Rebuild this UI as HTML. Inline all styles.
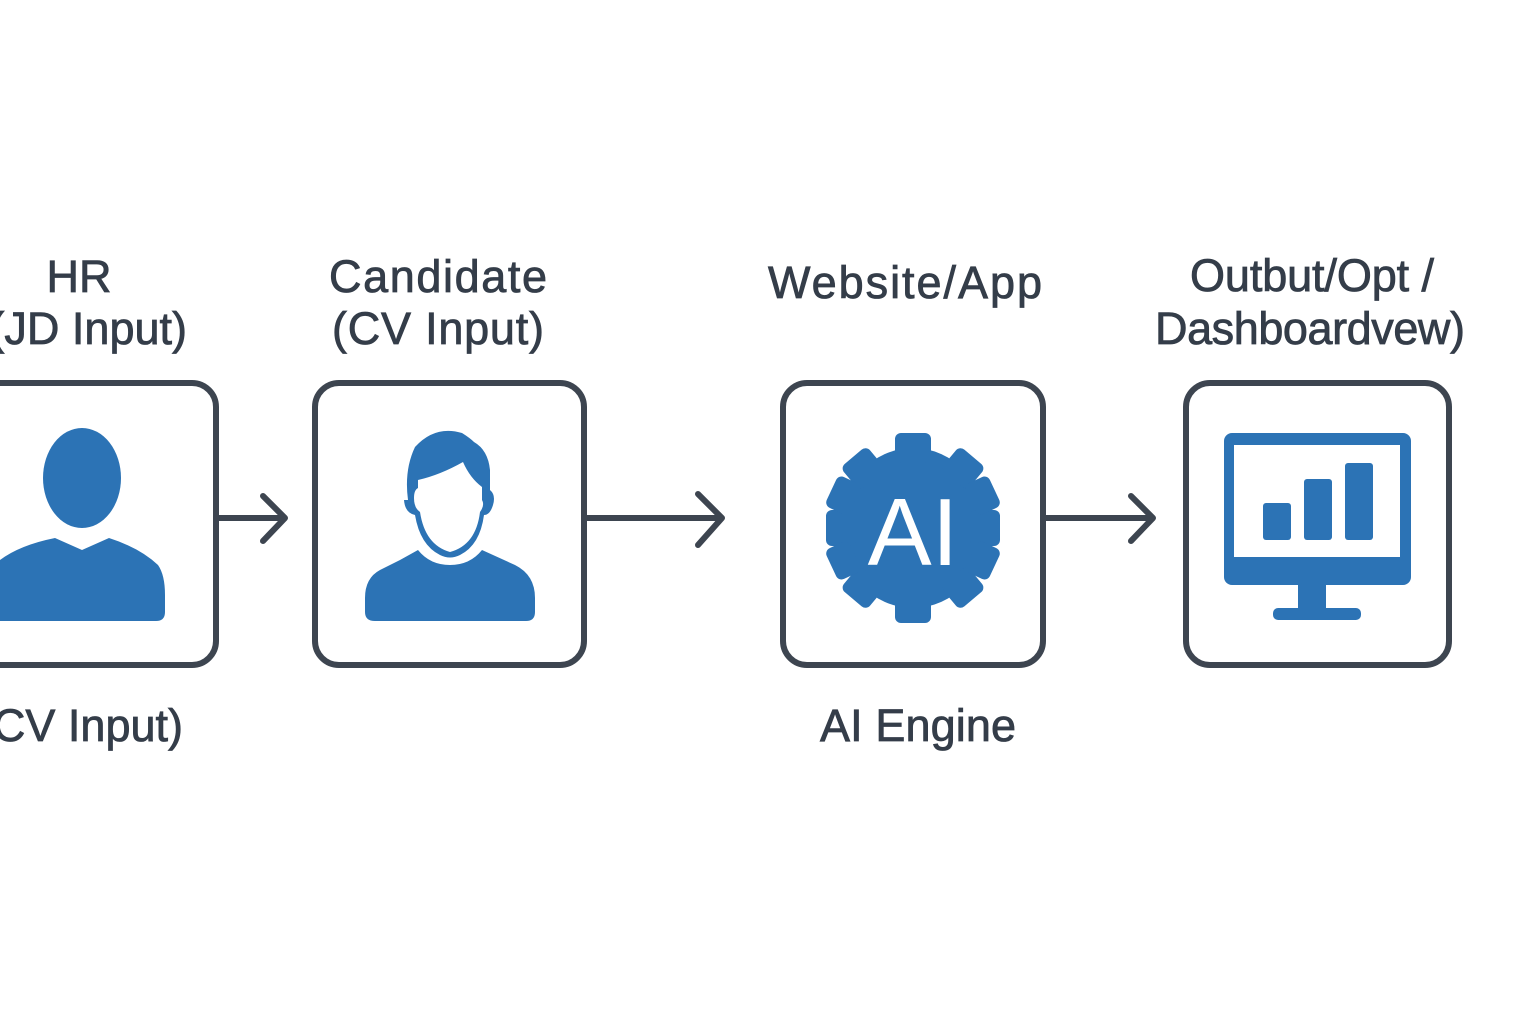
<!DOCTYPE html>
<html><head><style>html,body{margin:0;padding:0;background:#fff}svg{display:block}</style></head>
<body>
<svg width="1536" height="1024" viewBox="0 0 1536 1024" xmlns="http://www.w3.org/2000/svg">
<rect width="1536" height="1024" fill="#fff"/>
<g font-family="Liberation Sans, sans-serif" font-size="45" fill="#343d49" stroke="#343d49" stroke-width="0.8">
<text x="79" y="292" text-anchor="middle">HR</text>
<text x="187" y="344" text-anchor="end">(JD Input)</text>
<text x="183" y="741" text-anchor="end">(CV Input)</text>
<text x="438" y="292" text-anchor="middle" textLength="218">Candidate</text>
<text x="438" y="344" text-anchor="middle" textLength="212">(CV Input)</text>
<text x="905" y="298" text-anchor="middle" textLength="274">Website/App</text>
<text x="1312" y="291" text-anchor="middle" textLength="244">Outbut/Opt /</text>
<text x="1310" y="344" text-anchor="middle" textLength="310">Dashboardvew)</text>
<text x="918" y="741" text-anchor="middle" textLength="196">AI Engine</text>
</g>
<g fill="none" stroke="#3d4550" stroke-width="6" stroke-linecap="round" stroke-linejoin="round">
<rect x="-40" y="383" width="256" height="282" rx="24"/>
<rect x="315" y="383" width="269" height="282" rx="24"/>
<rect x="783" y="383" width="260" height="282" rx="24"/>
<rect x="1186" y="383" width="263" height="282" rx="24"/>
<path d="M216 518H284M263 496L285 518L263 541"/>
<path d="M584 518H721M698 494L722 518L698 545"/>
<path d="M1043 518H1152M1131 496L1153 518L1131 541"/>
</g>
<g fill="#2c73b5">
<ellipse cx="82" cy="478" rx="39" ry="50"/>
<path d="M0 560 Q20 545 55 538 L82 550 L109 538 Q140 548 158 565 Q165 575 165 595 V612 Q165 621 156 621 H0 Z"/>
<path d="M408 500 Q404 470 415 447 Q435 425 462 433 Q470 438 474 442 Q488 450 490 470 V490 Q496 495 493 505 Q490 515 484 515 Q480 545 460 555 Q450 560 440 555 Q420 545 415 515 Q405 513 404 500 Z"/>
<path d="M418 480 Q440 475 463 462 Q470 478 482 487 V500 Q485 505 480 512 Q476 545 450 552 Q425 545 420 512 Q414 508 414 498 Q414 490 418 488Z" fill="#fff"/>
<path d="M400 560 L418 550 Q430 565 450 565 Q470 565 482 550 L515 565 Q535 575 535 598 V612 Q535 621 526 621 H375 Q365 621 365 612 V598 Q365 578 380 570Z"/>
<g transform="translate(913,528)">
<ellipse rx="74" ry="80"/>
<rect x="-18" y="-95" width="36" height="30" rx="6"/>
<rect x="-18" y="65" width="36" height="30" rx="6"/>
<rect x="-87" y="-18" width="30" height="36" rx="6"/>
<rect x="57" y="-18" width="30" height="36" rx="6"/>
<g transform="rotate(40)"><rect x="-17" y="-93" width="34" height="30" rx="6"/><rect x="-17" y="63" width="34" height="30" rx="6"/></g>
<g transform="rotate(-40)"><rect x="-17" y="-93" width="34" height="30" rx="6"/><rect x="-17" y="63" width="34" height="30" rx="6"/></g>
<g transform="rotate(65)"><rect x="-17" y="-90" width="34" height="26" rx="6"/><rect x="-17" y="64" width="34" height="26" rx="6"/></g>
<g transform="rotate(-65)"><rect x="-17" y="-90" width="34" height="26" rx="6"/><rect x="-17" y="64" width="34" height="26" rx="6"/></g>
<text x="0" y="37" text-anchor="middle" font-family="Liberation Sans, sans-serif" font-size="96" fill="#fff">AI</text>
</g>
<rect x="1224" y="433" width="187" height="152" rx="8"/>
<rect x="1234" y="445" width="166" height="112" fill="#fff"/>
<rect x="1298" y="582" width="28" height="32"/>
<rect x="1273" y="608" width="88" height="12" rx="5"/>
<rect x="1263" y="503" width="28" height="37" rx="3"/>
<rect x="1304" y="479" width="28" height="61" rx="3"/>
<rect x="1345" y="463" width="28" height="77" rx="3"/>
</g>
</svg>
</body></html>
